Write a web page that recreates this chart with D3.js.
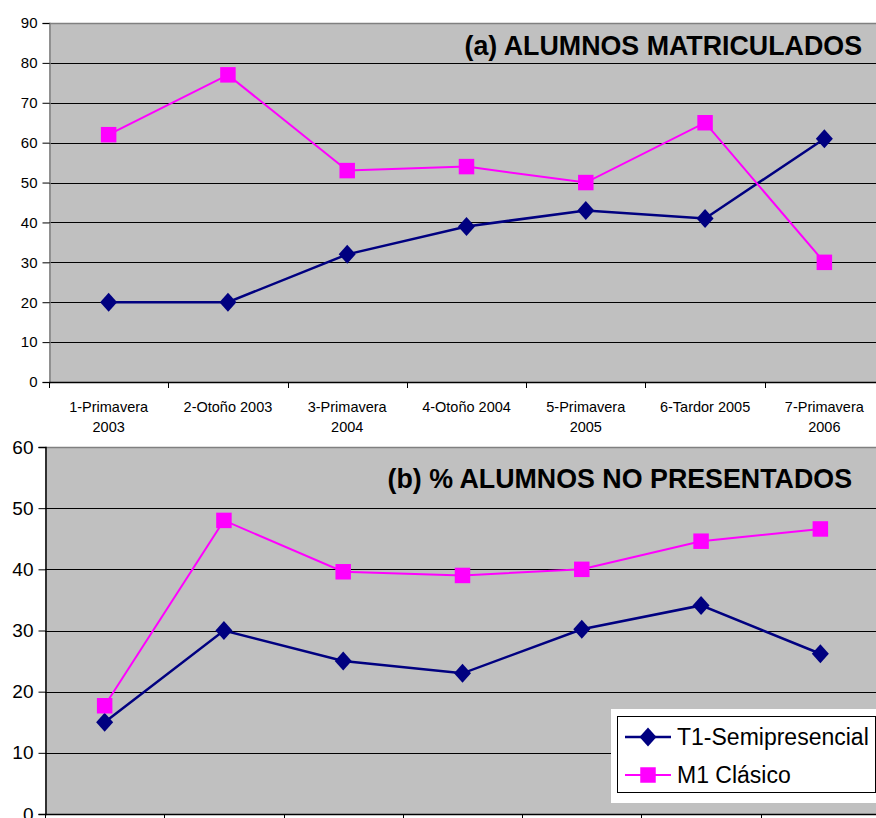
<!DOCTYPE html>
<html>
<head>
<meta charset="utf-8">
<script src="https://cdn.jsdelivr.net/npm/d3@7"></script>
<style>
  body { margin: 0; background: #fff; }
  svg { display: block; font-family: "Liberation Sans", Arial, sans-serif; }
</style>
</head>
<body>
<svg id="chart" width="876" height="818"></svg>
<script>
// categories (semesters)
var categories = [
  ["1-Primavera", "2003"],
  ["2-Otoño 2003"],
  ["3-Primavera", "2004"],
  ["4-Otoño 2004"],
  ["5-Primavera", "2005"],
  ["6-Tardor 2005"],
  ["7-Primavera", "2006"]
];
var seriesNames = ["T1-Semipresencial", "M1 Clásico"];

// (a) enrolled students
var enrolledT1 = [20, 20, 32, 39, 43, 41, 61];
var enrolledM1 = [62, 77, 53, 54, 50, 65, 30];
var enrolledTicks = [0, 10, 20, 30, 40, 50, 60, 70, 80, 90];

// (b) % not presented
var absentT1 = [15, 30, 25, 23, 30.2, 34.1, 26.2];
var absentM1 = [17.7, 48, 39.6, 39, 40, 44.6, 46.6];
var absentTicks = [0, 10, 20, 30, 40, 50, 60];

var svg = d3.select("#chart");
var navy = "#000080", magenta = "#FF00FF";

// excel-like markers
function diamond() { return "M0,-9.5L8.5,0L0,9.5L-8.5,0Z"; }
var square = d3.symbol().type(d3.symbolSquare).size(240);

function drawPanel(opt) {
  var keys = categories.map(function(c, i) { return i; });
  var x = d3.scaleBand().domain(keys).range([opt.left, opt.right]);
  var y = d3.scaleLinear().domain(opt.domain).range([opt.bottom, opt.top]);
  var g = svg.append("g");

  // plot background
  g.append("rect")
    .attr("x", opt.left).attr("y", opt.top)
    .attr("width", opt.right - opt.left).attr("height", opt.bottom - opt.top)
    .attr("fill", "#C0C0C0");

  // grid
  g.selectAll("line.grid")
    .data(opt.ticks.filter(function(t) { return t > opt.domain[0]; }))
    .enter().append("line")
    .attr("x1", opt.left).attr("x2", opt.right)
    .attr("y1", function(d) { return Math.round(y(d)) + 0.5; })
    .attr("y2", function(d) { return Math.round(y(d)) + 0.5; })
    .attr("stroke", function(d) { return d === opt.domain[1] ? "#808080" : "#000"; })
    .attr("stroke-width", function(d) { return d === opt.domain[1] ? 1.5 : 1; });

  // y axis
  var yAxis = d3.axisLeft(y).tickValues(opt.ticks).tickSize(7).tickPadding(5);
  var ya = g.append("g").attr("transform", "translate(" + (opt.left + 0.5) + ",0)").call(yAxis);
  ya.select(".domain").attr("stroke", opt.axisColor).attr("stroke-width", 1.5);
  ya.selectAll(".tick line").attr("stroke", "#000");
  ya.selectAll("text").attr("fill", "#000").style("font-size", opt.yFont + "px")
    .style("font-family", "Liberation Sans, Arial, sans-serif");

  // x axis (category boundaries as ticks)
  g.append("line")
    .attr("x1", opt.left).attr("x2", opt.right)
    .attr("y1", opt.bottom + 0.5).attr("y2", opt.bottom + 0.5)
    .attr("stroke", "#000").attr("stroke-width", 1.5);
  g.selectAll("line.xt")
    .data(keys.concat([keys.length]))
    .enter().append("line")
    .attr("x1", function(d) { return Math.round(opt.left + d * x.bandwidth()) + 0.5; })
    .attr("x2", function(d) { return Math.round(opt.left + d * x.bandwidth()) + 0.5; })
    .attr("y1", opt.bottom).attr("y2", opt.bottom + 6)
    .attr("stroke", "#000");

  if (opt.showLabels) {
    var lab = g.selectAll("text.cat")
      .data(categories)
      .enter().append("text")
      .attr("text-anchor", "middle")
      .attr("x", function(d, i) { return x(i) + x.bandwidth() / 2; })
      .attr("y", opt.bottom + 30)
      .style("font-size", "14.5px")
      .attr("fill", "#000");
    lab.selectAll("tspan")
      .data(function(d) { return d; })
      .enter().append("tspan")
      .attr("x", function() { return d3.select(this.parentNode).attr("x"); })
      .attr("dy", function(d, j) { return j === 0 ? 0 : 20; })
      .text(function(d) { return d; });
  }

  // title
  g.append("text")
    .attr("x", opt.titleX).attr("y", opt.titleY)
    .attr("text-anchor", "end")
    .style("font-size", "26.8px").style("font-weight", "bold")
    .attr("fill", "#000")
    .text(opt.title);

  var line = d3.line()
    .x(function(d, i) { return x(i) + x.bandwidth() / 2; })
    .y(function(d) { return y(d); });

  [[opt.t1, navy, diamond, 2.5], [opt.m1, magenta, square, 2]].forEach(function(s) {
    g.append("path").datum(s[0])
      .attr("d", line).attr("fill", "none")
      .attr("stroke", s[1]).attr("stroke-width", s[3]);
    g.selectAll(null).data(s[0]).enter().append("path")
      .attr("d", s[2])
      .attr("transform", function(d, i) {
        return "translate(" + (x(i) + x.bandwidth() / 2) + "," + y(d) + ")";
      })
      .attr("fill", s[1]);
  });
}

drawPanel({
  left: 49, right: 884, top: 23, bottom: 382,
  domain: [0, 90], ticks: enrolledTicks, yFont: 15, axisColor: "#808080",
  t1: enrolledT1, m1: enrolledM1, showLabels: true,
  title: "(a) ALUMNOS MATRICULADOS", titleX: 862, titleY: 55
});

drawPanel({
  left: 45, right: 880, top: 447, bottom: 814,
  domain: [0, 60], ticks: absentTicks, yFont: 19, axisColor: "#000",
  t1: absentT1, m1: absentM1, showLabels: false,
  title: "(b) % ALUMNOS NO PRESENTADOS", titleX: 852, titleY: 488
});

// legend
var lg = svg.append("g");
lg.append("rect").attr("x", 611).attr("y", 709).attr("width", 280).attr("height", 94).attr("fill", "#fff");
lg.append("rect").attr("x", 617.5).attr("y", 716.5).attr("width", 258).attr("height", 76)
  .attr("fill", "none").attr("stroke", "#000");
var legendItems = [
  { name: seriesNames[0], color: navy, sym: diamond, w: 2.5 },
  { name: seriesNames[1], color: magenta, sym: square, w: 2 }
];
var li = lg.selectAll("g.item").data(legendItems).enter().append("g")
  .attr("transform", function(d, i) { return "translate(0," + (737 + i * 38) + ")"; });
li.append("line").attr("x1", 625).attr("x2", 671).attr("y1", 0).attr("y2", 0)
  .attr("stroke", function(d) { return d.color; }).attr("stroke-width", function(d) { return d.w; });
li.append("path").attr("d", function(d) { return d.sym(); })
  .attr("transform", "translate(648,0)")
  .attr("fill", function(d) { return d.color; });
li.append("text").attr("x", 677).attr("y", 8)
  .style("font-size", "23px").attr("fill", "#000")
  .text(function(d) { return d.name; });
</script>
</body>
</html>
